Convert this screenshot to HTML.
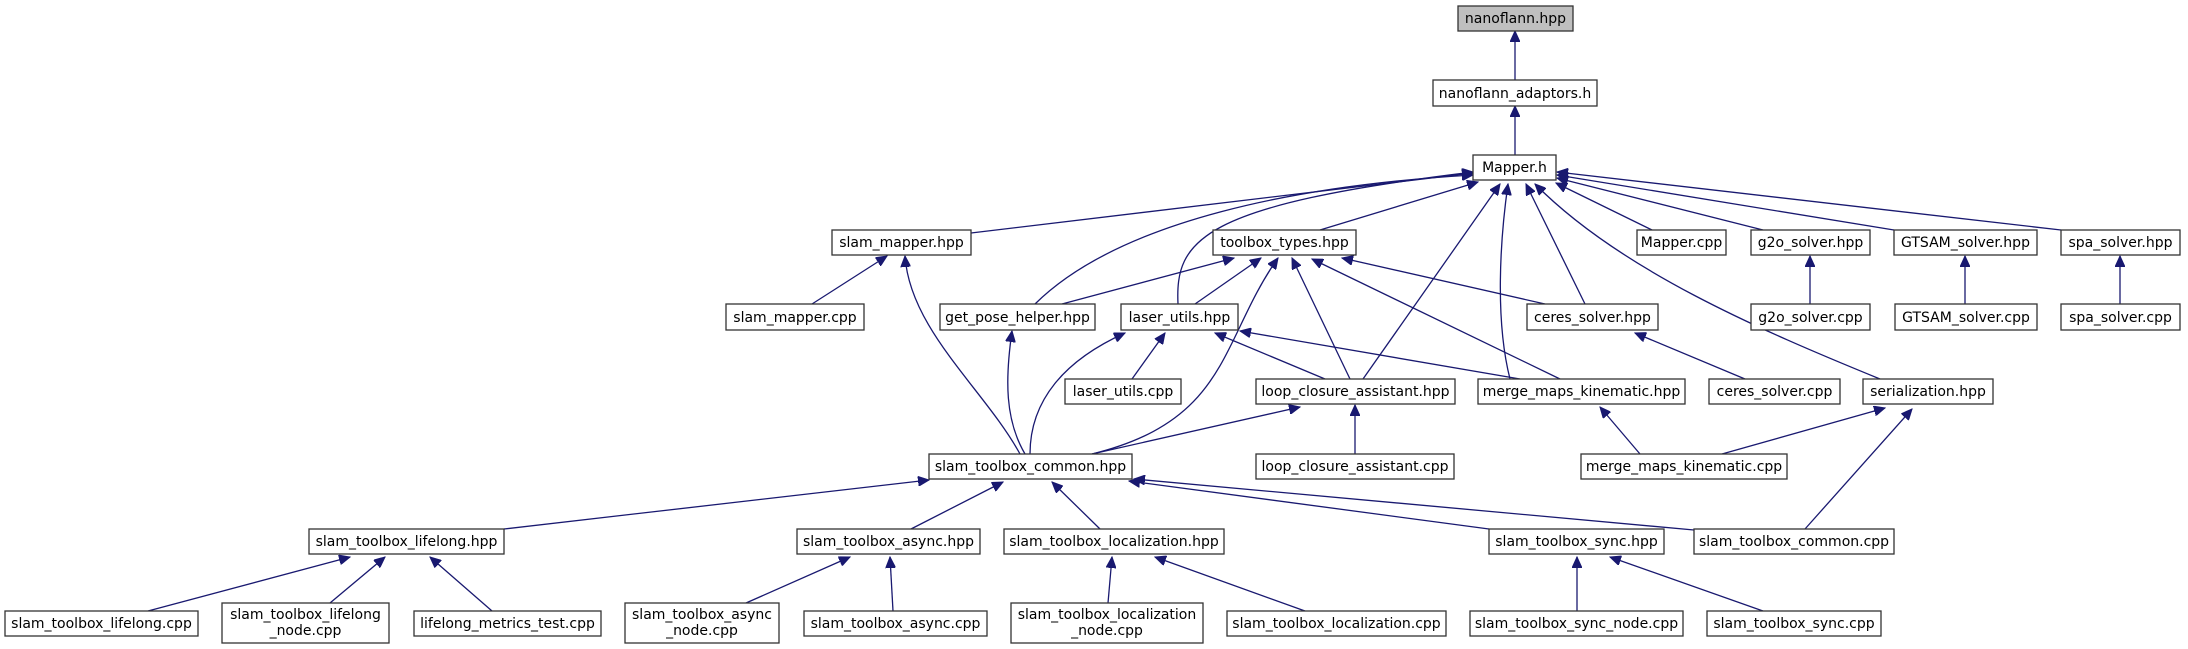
<!DOCTYPE html>
<html><head><meta charset="utf-8"><style>
html,body{margin:0;padding:0;background:#fff;}
svg{display:block;}
text{font-family:"DejaVu Sans","Liberation Sans",sans-serif;font-size:14px;fill:#000;}
rect{fill:#fff;stroke:#333;stroke-width:1.3;}
path.e{fill:none;stroke:#191970;stroke-width:1.3;}
</style></head><body>
<svg width="2188" height="649" viewBox="0 0 2188 649" xmlns="http://www.w3.org/2000/svg">
<defs><marker id="a" markerUnits="userSpaceOnUse" markerWidth="12" markerHeight="10" refX="11" refY="5" orient="auto"><path d="M0,0 L11,5 L0,10 z" fill="#191970" stroke="#191970"/></marker></defs>
<g marker-end="url(#a)">
<path class="e" d="M1515,80 L1515,31"/>
<path class="e" d="M1515,155 L1515,106"/>
<path class="e" d="M971,233 L1473,173"/>
<path class="e" d="M1035,304 C1120,220 1300,185 1473,175"/>
<path class="e" d="M1178,304 C1175,240 1200,205 1473,172"/>
<path class="e" d="M1320,230 L1478,182"/>
<path class="e" d="M1363,379 L1500,184"/>
<path class="e" d="M1510,379 C1495,320 1500,240 1508,184"/>
<path class="e" d="M1585,304 L1526,184"/>
<path class="e" d="M1880,379 C1760,330 1620,270 1535,184"/>
<path class="e" d="M1652,230 L1556,183"/>
<path class="e" d="M1763,230 L1557,178"/>
<path class="e" d="M1894,230 L1557,175"/>
<path class="e" d="M2061,230 L1557,172"/>
<path class="e" d="M812,304 L887,256"/>
<path class="e" d="M1020,454 C985,390 910,330 905,256"/>
<path class="e" d="M1062,304 L1234,258"/>
<path class="e" d="M1195,304 L1261,258"/>
<path class="e" d="M1092,454 C1230,420 1220,340 1278,258"/>
<path class="e" d="M1350,379 L1292,258"/>
<path class="e" d="M1560,379 L1312,259"/>
<path class="e" d="M1545,304 L1342,258"/>
<path class="e" d="M1025,454 C1005,420 1005,380 1012,331"/>
<path class="e" d="M1030,454 C1030,400 1065,360 1125,333"/>
<path class="e" d="M1132,379 L1165,333"/>
<path class="e" d="M1325,379 L1215,333"/>
<path class="e" d="M1520,379 L1240,331"/>
<path class="e" d="M1745,379 L1635,333"/>
<path class="e" d="M1810,304 L1810,256"/>
<path class="e" d="M1965,304 L1965,256"/>
<path class="e" d="M2120,304 L2120,256"/>
<path class="e" d="M1092,454 L1300,407"/>
<path class="e" d="M1355,454 L1355,405"/>
<path class="e" d="M1640,454 L1600,407"/>
<path class="e" d="M1722,454 L1885,408"/>
<path class="e" d="M1805,529 L1912,409"/>
<path class="e" d="M504,529 L929,480"/>
<path class="e" d="M911,529 L1003,482"/>
<path class="e" d="M1100,529 L1052,482"/>
<path class="e" d="M1489,529 L1129,481"/>
<path class="e" d="M1694,530 L1134,479"/>
<path class="e" d="M148,611 L350,557"/>
<path class="e" d="M330,603 L385,557"/>
<path class="e" d="M492,611 L430,557"/>
<path class="e" d="M746,603 L850,557"/>
<path class="e" d="M893,611 L890,557"/>
<path class="e" d="M1108,603 L1112,557"/>
<path class="e" d="M1305,611 L1155,557"/>
<path class="e" d="M1577,611 L1577,557"/>
<path class="e" d="M1763,611 L1610,557"/>
</g>
<g text-anchor="middle">
<rect x="1458" y="6" width="115" height="25" style="fill:#bfbfbf"/><text x="1515.5" y="23">nanoflann.hpp</text>
<rect x="1433" y="80" width="164" height="26"/><text x="1515" y="98">nanoflann_adaptors.h</text>
<rect x="1473" y="155" width="83" height="25"/><text x="1514.5" y="172">Mapper.h</text>
<rect x="832" y="230" width="139" height="25"/><text x="901.5" y="247">slam_mapper.hpp</text>
<rect x="1213" y="230" width="143" height="25"/><text x="1284.5" y="247">toolbox_types.hpp</text>
<rect x="1637" y="230" width="89" height="25"/><text x="1681.5" y="247">Mapper.cpp</text>
<rect x="1751" y="230" width="119" height="25"/><text x="1810.5" y="247">g2o_solver.hpp</text>
<rect x="1894" y="230" width="143" height="25"/><text x="1965.5" y="247">GTSAM_solver.hpp</text>
<rect x="2061" y="230" width="119" height="25"/><text x="2120.5" y="247">spa_solver.hpp</text>
<rect x="726" y="304" width="138" height="26"/><text x="795" y="322">slam_mapper.cpp</text>
<rect x="940" y="304" width="155" height="26"/><text x="1017.5" y="322">get_pose_helper.hpp</text>
<rect x="1121" y="304" width="117" height="26"/><text x="1179.5" y="322">laser_utils.hpp</text>
<rect x="1527" y="304" width="131" height="26"/><text x="1592.5" y="322">ceres_solver.hpp</text>
<rect x="1751" y="304" width="119" height="26"/><text x="1810.5" y="322">g2o_solver.cpp</text>
<rect x="1895" y="304" width="142" height="26"/><text x="1966" y="322">GTSAM_solver.cpp</text>
<rect x="2061" y="304" width="119" height="26"/><text x="2120.5" y="322">spa_solver.cpp</text>
<rect x="1065" y="379" width="116" height="25"/><text x="1123" y="396">laser_utils.cpp</text>
<rect x="1256" y="379" width="199" height="25"/><text x="1355.5" y="396">loop_closure_assistant.hpp</text>
<rect x="1478" y="379" width="207" height="25"/><text x="1581.5" y="396">merge_maps_kinematic.hpp</text>
<rect x="1709" y="379" width="131" height="25"/><text x="1774.5" y="396">ceres_solver.cpp</text>
<rect x="1863" y="379" width="130" height="25"/><text x="1928" y="396">serialization.hpp</text>
<rect x="929" y="454" width="203" height="25"/><text x="1030.5" y="471">slam_toolbox_common.hpp</text>
<rect x="1256" y="454" width="198" height="25"/><text x="1355" y="471">loop_closure_assistant.cpp</text>
<rect x="1581" y="454" width="206" height="25"/><text x="1684" y="471">merge_maps_kinematic.cpp</text>
<rect x="309" y="529" width="195" height="25"/><text x="406.5" y="546">slam_toolbox_lifelong.hpp</text>
<rect x="797" y="529" width="183" height="25"/><text x="888.5" y="546">slam_toolbox_async.hpp</text>
<rect x="1004" y="529" width="220" height="25"/><text x="1114" y="546">slam_toolbox_localization.hpp</text>
<rect x="1489" y="529" width="175" height="25"/><text x="1576.5" y="546">slam_toolbox_sync.hpp</text>
<rect x="1694" y="529" width="200" height="25"/><text x="1794" y="546">slam_toolbox_common.cpp</text>
<rect x="5" y="611" width="193" height="25"/><text x="101.5" y="628">slam_toolbox_lifelong.cpp</text>
<rect x="222" y="603" width="167" height="40"/><text x="305.5" y="619">slam_toolbox_lifelong</text><text x="305.5" y="635">_node.cpp</text>
<rect x="414" y="611" width="187" height="25"/><text x="507.5" y="628">lifelong_metrics_test.cpp</text>
<rect x="625" y="603" width="154" height="40"/><text x="702" y="619">slam_toolbox_async</text><text x="702" y="635">_node.cpp</text>
<rect x="804" y="611" width="183" height="25"/><text x="895.5" y="628">slam_toolbox_async.cpp</text>
<rect x="1011" y="603" width="192" height="40"/><text x="1107" y="619">slam_toolbox_localization</text><text x="1107" y="635">_node.cpp</text>
<rect x="1227" y="611" width="219" height="25"/><text x="1336.5" y="628">slam_toolbox_localization.cpp</text>
<rect x="1470" y="611" width="213" height="25"/><text x="1576.5" y="628">slam_toolbox_sync_node.cpp</text>
<rect x="1707" y="611" width="174" height="25"/><text x="1794" y="628">slam_toolbox_sync.cpp</text>
</g>
</svg>
</body></html>
